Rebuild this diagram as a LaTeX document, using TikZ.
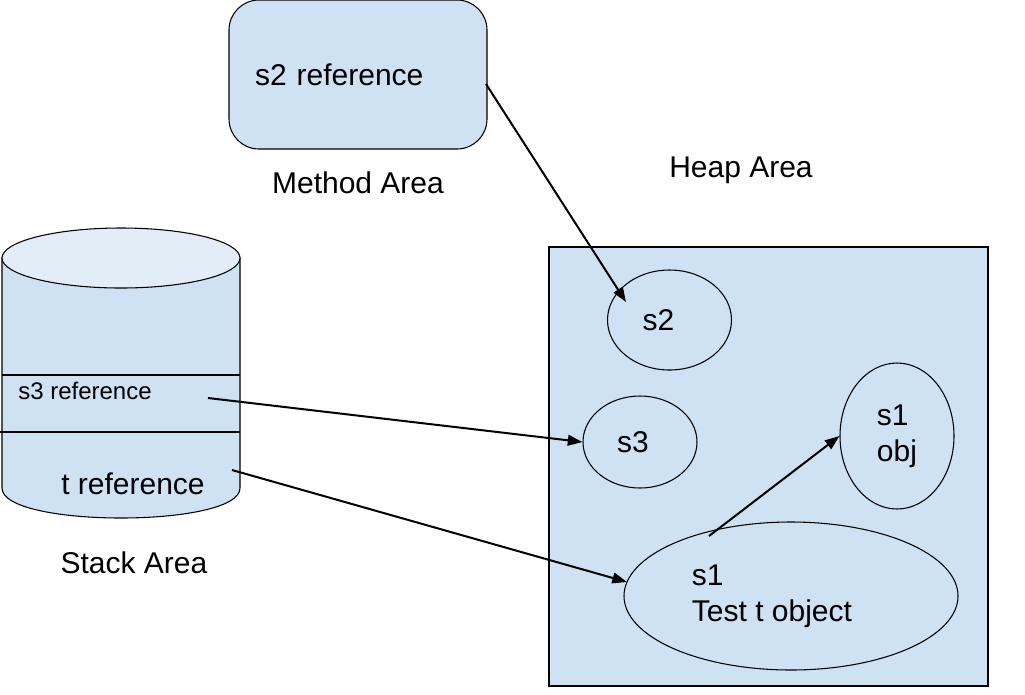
\documentclass[tikz,border=0pt]{standalone}
\usepackage{fontspec}
\setmainfont{Liberation Sans}
\usetikzlibrary{shapes.geometric,arrows.meta}
\definecolor{boxblue}{HTML}{CFE2F3}
\definecolor{topblue}{HTML}{E2EDF8}
\begin{document}
\begin{tikzpicture}[x=0.75pt,y=-0.75pt,
        big/.style={font=\fontsize{22.5}{27}\selectfont},
        small/.style={font=\fontsize{18}{21}\selectfont},
        obj/.style={ellipse,draw,fill=boxblue,line width=0.8pt,inner sep=0pt,big,align=left},
        ref/.style={-{Triangle[length=11pt,width=8pt]},line width=1.5pt}]
        \useasboundingbox (0,0) rectangle (1025,694);

        % stack area (cylinder)
        \filldraw[fill=boxblue,line width=0.8pt] (2,258) -- (2,488) .. controls (2,528) and (240,528) .. (240,488) -- (240,258) -- cycle;
        \filldraw[fill=topblue,line width=0.8pt] (121,258) ellipse [x radius=89.25pt,y radius=22.5pt];
        \draw[line width=0.8pt] (2,375) -- (240,375);
        \draw[line width=0.8pt] (0,432) -- (240,432);
        \draw (85,391) node (sref3) [small] {s3 reference};
        \draw (133,484) node (tref) [big] {t reference};
        \draw (134,563) node (stack) [big] {Stack Area};

        % method area
        \draw (358,74.5) node (method) [rectangle,draw,fill=boxblue,line width=0.8pt,rounded corners=22.5pt,
                minimum width=193.5pt,minimum height=111.75pt,text width=154.5pt,inner xsep=19.5pt,align=left,big] {s2 reference};
        \draw (358,183) node (methodlbl) [big] {Method Area};

        % heap area
        \draw (741,170) node (heaplbl) [big] {Heap Area};
        \filldraw[fill=boxblue,line width=0.8pt] (549,247) rectangle (988,686);
        \draw (669.5,320) node (s2) [obj,minimum width=93pt,minimum height=75pt] {s2\hspace*{16.5pt}};
        \draw (640,442) node (s3) [obj,minimum width=85.5pt,minimum height=69pt] {s3\hspace*{10.5pt}};
        \draw (897,436) node (s1obj) [obj,minimum width=85.5pt,minimum height=109.5pt] {s1\\obj};
        \draw (791,596) node (s1t) [obj,minimum width=250.5pt,minimum height=111pt] {s1\\Test t object\hspace*{28.5pt}};

        \coordinate (s2from) at (486,84);
        \coordinate (s2to) at (626,302);
        \coordinate (s3from) at (208,398);
        \coordinate (tfrom) at (232,470);
        \coordinate (tto) at (627,582);
        \coordinate (objfrom) at (709,536);

        \draw [ref] (s2from) to (s2to);
        \draw [ref] (s3from) to (s3.west);
        \draw [ref] (tfrom) to (tto);
        \draw [ref] (objfrom) to (s1obj.west);
    \end{tikzpicture}
\end{document}
